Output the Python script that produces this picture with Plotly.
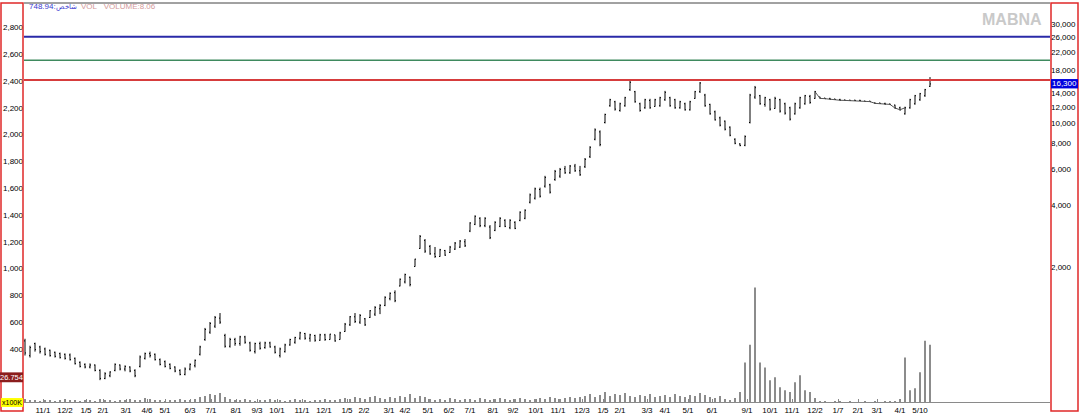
import plotly.graph_objects as go

# ---------------- data ----------------
# weekly-sampled price bars (left axis units)
open_ = [460,350,440,415,400,390,375,365,360,355,
         330,300,285,265,280,240,180,200,240,280,
         250,265,240,270,330,365,360,320,305,285,
         265,240,210,250,275,360,470,525,570,630,
         500,420,470,440,490,445,380,440,410,445,
         415,350,380,430,450,480,515,480,500,465,
         505,470,505,470,530,580,640,600,625,635,
         660,700,725,775,820,870,900,935,1015,1150,
         1210,1165,1110,1090,1135,1120,1145,1160,1200,1280,
         1330,1375,1320,1310,1285,1315,1360,1305,1345,1360,
         1375,1495,1525,1590,1615,1625,1665,1690,1745,1715,
         1765,1730,1760,1835,1965,2020,2090,2215,2245,2180,
         2215,2335,2320,2230,2200,2255,2210,2215,2260,2275,
         2260,2200,2230,2185,2270,2320,2295,2225,2170,2125,
         2100,2055,1965,1930,1920,2090,2280,2290,2225,2260,
         2195,2260,2230,2200,2155,2200,2230,2285,2270,2280,
         2272,2270,2265,2262,2258,2256,2256,2255,2250,2249,
         2236,2235,2232,2228,2220,2200,2155,2200,2230,2260,
         2290,2360]
high = [476,424,447,424,410,395,380,373,366,366,
        336,307,292,292,284,248,226,233,292,284,
        277,270,248,351,373,380,366,329,314,292,
        270,248,262,292,321,424,557,601,646,668,
        513,483,483,498,498,454,447,454,454,454,
        424,410,439,476,491,528,520,513,506,513,
        513,513,506,528,594,646,668,660,631,690,
        719,734,793,822,837,926,962,940,1073,1250,
        1220,1176,1161,1147,1139,1169,1198,1213,1220,1346,
        1397,1383,1383,1324,1353,1383,1368,1368,1353,1427,
        1442,1560,1604,1604,1692,1633,1736,1751,1766,1773,
        1781,1766,1825,1913,2046,2031,2156,2267,2252,2238,
        2282,2400,2326,2238,2267,2267,2267,2282,2326,2282,
        2267,2252,2238,2252,2326,2392,2304,2230,2179,2134,
        2105,2061,1972,1935,1994,2304,2363,2296,2282,2267,
        2282,2267,2238,2208,2238,2282,2296,2296,2326,2282,
        2274,2274,2267,2267,2260,2260,2260,2260,2252,2252,
        2238,2238,2238,2230,2223,2208,2208,2267,2296,2311,
        2341,2429]
low = [351,336,380,366,351,343,336,329,321,314,
       284,262,255,255,233,167,174,189,233,240,
       233,226,189,262,321,336,314,277,262,248,
       226,203,203,240,262,351,461,513,557,587,
       410,410,424,424,439,380,366,395,402,410,
       366,336,373,424,439,469,469,454,454,461,
       461,469,454,469,528,572,594,587,572,631,
       646,660,719,763,749,867,889,867,1014,1147,
       1117,1103,1080,1088,1095,1117,1139,1154,1161,1272,
       1324,1309,1309,1220,1279,1309,1309,1294,1294,1353,
       1368,1486,1515,1530,1604,1560,1655,1677,1707,1707,
       1722,1692,1751,1825,1957,1913,2083,2208,2179,2171,
       2208,2326,2238,2171,2193,2193,2208,2208,2252,2208,
       2193,2193,2179,2179,2267,2311,2208,2149,2105,2061,
       2031,1987,1928,1913,1913,2083,2267,2223,2208,2179,
       2193,2164,2149,2105,2149,2193,2223,2230,2267,2267,
       2267,2260,2260,2252,2252,2252,2252,2252,2245,2245,
       2230,2230,2223,2223,2193,2179,2149,2193,2223,2252,
       2282,2355]
close = [370,410,395,380,360,350,345,335,330,320,
         290,270,265,280,240,180,215,228,285,250,
         270,235,200,340,365,350,320,285,270,255,
         235,210,250,285,315,415,545,590,635,600,
         420,470,440,490,450,390,440,405,445,415,
         375,400,430,470,485,520,480,505,465,505,
         470,510,460,520,585,640,605,650,580,685,
         710,725,785,815,760,920,955,880,1070,1240,
         1130,1110,1090,1140,1100,1160,1190,1205,1170,1340,
         1390,1320,1375,1230,1345,1375,1315,1360,1300,1420,
         1435,1550,1595,1540,1680,1570,1725,1740,1715,1765,
         1730,1700,1815,1905,2035,1925,2150,2260,2190,2230,
         2275,2390,2245,2180,2260,2200,2260,2275,2315,2215,
         2200,2245,2185,2245,2320,2385,2215,2155,2110,2070,
         2040,1995,1935,1918,1985,2295,2350,2230,2275,2190,
         2270,2175,2160,2115,2230,2275,2290,2240,2320,2270,
         2268,2263,2262,2256,2255,2254,2254,2253,2247,2246,
         2233,2232,2228,2225,2198,2185,2200,2260,2290,2305,
         2335,2378]
volume = [3,2,2,1,2,2,1,2,3,2, 2,1,2,2,1,3,2,2,1,2,
          2,3,2,2,4,3,2,2,1,2, 2,3,2,2,3,
          5,6,8,7,9,5,
          3,2,2,3,2,1,2,2,3,2, 2,1,2,3,2,2,1,2,2,3, 2,2,
          3,4,3,5,4,3,5,6,4,3,5,4,6,
          5,8,4,6,5,
          3,2,3,2,4,3,2,3,3,2, 4,3,2,3,4,3,2,3,4,3, 2,3,4,3,5,4,3,4,5,4,
          5,6,8,5,7,10,6,8,7,9, 6,5,7,6,8,5,6,7,5,8, 6,5,7,6,9,7,5,4,6,3,
          2,4,
          10,40,58,116,40,35,22,25,15,12, 10,20,27,12,10,4,1,1,0,1,
          1,0,1,0,0,1,0,1,0,1, 1,1,3,45,12,14,30,62,58]
bar_index = list(range(len(close)))

# x-axis ticks (bar-index positions) and labels
tick_pos = [3.6,8.0,12.2,15.6,20.2,24.4,28.0,33.0,37.2,42.2,46.4,50.4,55.4,59.8,
            64.4,67.8,72.8,76.0,80.6,84.8,89.0,93.6,97.6,102.2,106.6,111.4,115.6,
            119.0,124.4,128.0,132.6,137.4,144.4,149.0,153.4,158.0,162.6,166.6,
            170.4,175.0,179.0]
tick_text = ["11/1","12/2","1/5","2/1","3/1","4/6","5/1","6/3","7/1","8/1","9/3",
             "10/1","11/1","12/1","1/5","2/2","3/1","4/2","5/1","6/2","7/1","8/1",
             "9/2","10/1","11/1","12/3","1/5","2/1","3/3","4/1","5/1","6/1","9/1",
             "10/1","11/1","12/2","1/7","2/1","3/1","4/1","5/10"]

left_ticks = [400,600,800,1000,1200,1400,1600,1800,2000,2200,2400,2600,2800]
right_ticks = [2000,4000,6000,8000,10000,12000,14000,18000,22000,26000,30000]

level_values = [26188, 20142, 16164]
level_colors = ["#2a2aa8", "#3f8a5e", "#d63c3c"]
level_widths = [2, 1.5, 2]
last_price = 16300

# ---------------- layout helpers (pixel -> paper) ----------------
W, H = 1080, 418
PL, PR, PT, PB = 24, 1050, 3, 407
def px(x):
    return (x - PL) / (PR - PL)
def py(y):
    return (PB - y) / (PB - PT)

FONT = "Liberation Sans"

fig = go.Figure()

fig.add_trace(go.Bar(x=bar_index, y=volume, yaxis="y3", width=0.35,
                     marker=dict(color="#8c8c8c", line=dict(width=0)),
                     hoverinfo="skip", showlegend=False))

fig.add_trace(go.Ohlc(x=bar_index, open=open_, high=high, low=low, close=close,
                      increasing=dict(line=dict(color="#000000", width=1)),
                      decreasing=dict(line=dict(color="#000000", width=1)),
                      tickwidth=0.2, hoverinfo="skip", showlegend=False))

# thin connecting line through the sparse-trading stretch
fig.add_trace(go.Scatter(x=bar_index[158:177], y=close[158:177], mode="lines",
                         line=dict(color="#555555", width=1),
                         hoverinfo="skip", showlegend=False))

shapes = []
for v, c, w in zip(level_values, level_colors, level_widths):
    shapes.append(dict(type="line", xref="paper", yref="y2", x0=0, x1=1, y0=v, y1=v,
                       line=dict(color=c, width=w)))
# top frame line
shapes.append(dict(type="line", xref="paper", yref="paper", x0=0, x1=1, y0=1, y1=1,
                   line=dict(color="#444444", width=1)))
# left / right red panels
shapes.append(dict(type="rect", xref="paper", yref="paper", x0=px(1), x1=px(23),
                   y0=py(416), y1=py(3), line=dict(color="#e02828", width=1.5)))
shapes.append(dict(type="rect", xref="paper", yref="paper", x0=px(1051), x1=px(1078),
                   y0=py(416), y1=py(3), line=dict(color="#e02828", width=1.5)))
# value boxes
shapes.append(dict(type="rect", xref="paper", yref="paper", x0=px(0), x1=px(23),
                   y0=py(387), y1=py(377), fillcolor="#8b1d1d", line=dict(width=0)))
shapes.append(dict(type="rect", xref="paper", yref="paper", x0=px(1), x1=px(23),
                   y0=py(412), y1=py(403), fillcolor="#ffff00", line=dict(width=0)))
shapes.append(dict(type="rect", xref="paper", yref="paper", x0=px(1051), x1=px(1078),
                   y0=py(89.5), y1=py(80), fillcolor="#0000dd", line=dict(width=0)))

ann = []
for v in level_values:
    ann.append(dict(xref="paper", yref="y2", x=px(1049), y=v, xanchor="right",
                    yanchor="bottom", text=f"{v:,}", showarrow=False, borderpad=0,
                    font=dict(family=FONT, size=10, color="#e8643e")))
ann.append(dict(xref="paper", yref="paper", x=px(1044), y=py(19.5), xanchor="right",
                yanchor="middle", text="<b>MABNA</b>", showarrow=False,
                font=dict(family=FONT, size=16, color="#c9c9c9")))
ann.append(dict(xref="paper", yref="paper", x=px(11.5), y=py(382), xanchor="center",
                yanchor="middle", text="26.754", showarrow=False, borderpad=0,
                font=dict(family=FONT, size=7.5, color="#ffffff")))
ann.append(dict(xref="paper", yref="paper", x=px(12), y=py(407.5), xanchor="center",
                yanchor="middle", text="x100K", showarrow=False, borderpad=0,
                font=dict(family=FONT, size=7, color="#000000")))
ann.append(dict(xref="paper", yref="paper", x=px(1064.5), y=py(84.8), xanchor="center",
                yanchor="middle", text=f"{last_price:,}", showarrow=False, borderpad=0,
                font=dict(family=FONT, size=8, color="#ffffff")))
ann.append(dict(xref="paper", yref="paper", x=px(28), y=py(7), xanchor="left",
                yanchor="middle",
                text="748.94:<span style='font-size:7px'>شاخص</span>",
                showarrow=False, borderpad=0,
                font=dict(family=FONT, size=8, color="#3a3ad0")))
ann.append(dict(xref="paper", yref="paper", x=px(80), y=py(7), xanchor="left",
                yanchor="middle", text="VOL&nbsp;&nbsp;&nbsp;VOLUME:8.06", showarrow=False,
                borderpad=0, font=dict(family=FONT, size=8, color="#d49a9a")))

fig.update_layout(
    width=W, height=H,
    margin=dict(l=PL, r=W - PR, t=PT, b=H - PB),
    paper_bgcolor="white", plot_bgcolor="white",
    font=dict(family=FONT, size=8, color="#000000"),
    showlegend=False,
    xaxis=dict(range=[-0.2, 205], tickvals=tick_pos, ticktext=tick_text,
               ticks="inside", ticklen=3, tickcolor="#888888", showline=True,
               linecolor="#8a8a8a", linewidth=1, showgrid=False, zeroline=False,
               rangeslider=dict(visible=False), tickfont=dict(size=8)),
    yaxis=dict(range=[4, 2982], tickvals=left_ticks,
               ticktext=[f"{t:,}" for t in left_ticks], showgrid=False,
               zeroline=False, ticks="", tickfont=dict(size=8)),
    yaxis2=dict(type="log", range=[2.6488, 4.5818], overlaying="y", side="right",
                anchor="x", tickvals=right_ticks,
                ticktext=[f"{t:,}" for t in right_ticks], showgrid=False,
                zeroline=False, ticks="", tickfont=dict(size=8)),
    yaxis3=dict(range=[0, 404], overlaying="y", visible=False, fixedrange=True),
    shapes=shapes, annotations=ann,
)

fig.write_html("out.html", config={"displayModeBar": False},
               post_script="document.body.style.margin='0';document.body.style.overflow='hidden';")
